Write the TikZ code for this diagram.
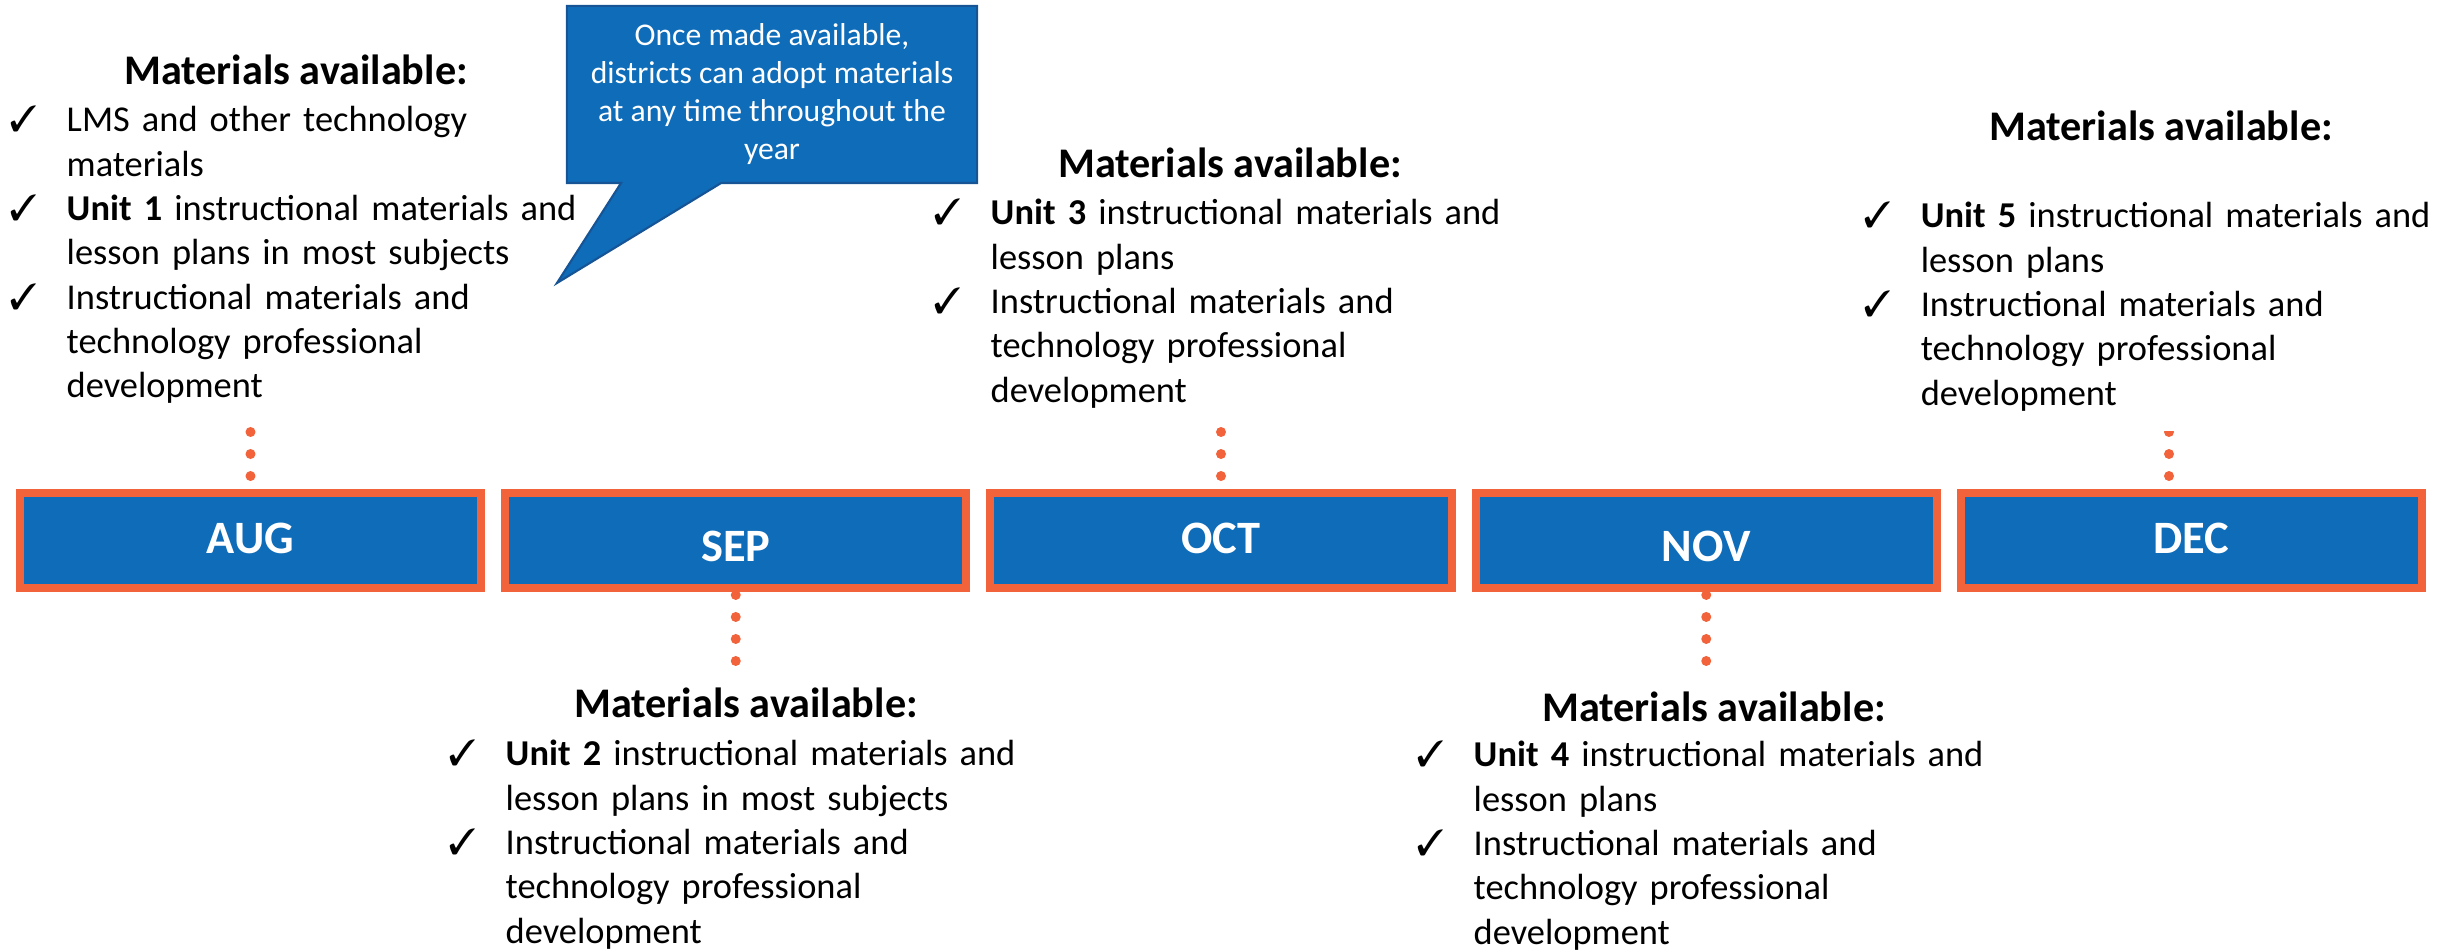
\documentclass[tikz,border=0pt]{standalone}
\usepackage{fontspec}
\setmainfont{Carlito}
\usepackage{pifont}
\usetikzlibrary{shapes.callouts,backgrounds}

\definecolor{boxblue}{RGB}{14,108,185}
\definecolor{edgeblue}{RGB}{22,84,150}
\definecolor{frameorange}{RGB}{242,99,59}

\newlength{\chkind}
\setlength{\chkind}{0.57cm}
\newcommand{\chkitem}[1]{\noindent\hangindent=\chkind\hangafter=1\makebox[\chkind][l]{\ding{51}}#1\par}

\tikzset{
	month/.style={draw=frameorange, fill=boxblue, line width=0.08cm, minimum width=4.61cm, minimum height=0.95cm, inner sep=0pt},
	monthtxt/.style={text=white, inner sep=0pt, font=\fontsize{13.2pt}{16pt}\selectfont\bfseries},
	heading/.style={anchor=base, inner sep=0pt, font=\fontsize{12pt}{14pt}\selectfont\bfseries},
	itemlist/.style={anchor=base west, text width=6.2cm, align=left, inner sep=0pt, font=\fontsize{10.35pt}{12.6pt}\selectfont},
	dotline/.style={draw=frameorange, line width=0.1cm, line cap=round, dash pattern=on 0pt off 0.22cm},
	note/.style={rectangle callout, fill=boxblue, draw=edgeblue, line width=0.6pt, text=white, align=center, minimum width=4.1cm, minimum height=1.77cm, inner sep=0pt, callout pointer width=1cm, font=\fontsize{9pt}{10.8pt}\selectfont}
}

\begin{document}
\begin{tikzpicture}[x=0.01cm, y=-0.01cm]
	\useasboundingbox (0,0) rectangle (2453,952);
	\foreach \n/\lbl/\x/\dy in {aug/AUG/250.5/0.02, sep/SEP/735.75/-0.055, oct/OCT/1221/0.02, nov/NOV/1706.25/-0.055, dec/DEC/2191.5/0.02}{
		\node[month] (\n) at (\x,540.5) {};
		\node[monthtxt] (\n-lbl) at ([yshift=\dy cm]\n.center) {\lbl};
	}

	\node[heading] (aug-head) at (296,85) {Materials available:};
	\node[itemlist] (aug-list) at (9,132) {
		\chkitem{LMS and other technology\newline materials}
		\chkitem{\textbf{Unit 1} instructional materials and\newline lesson plans in most subjects}
		\chkitem{Instructional materials and\newline technology professional\newline development}};
	\node[heading] (sep-head) at (746,718) {Materials available:};
	\node[itemlist] (sep-list) at (448,766) {
		\chkitem{\textbf{Unit 2} instructional materials and\newline lesson plans in most subjects}
		\chkitem{Instructional materials and\newline technology professional\newline development}};
	\node[heading] (oct-head) at (1230,178) {Materials available:};
	\node[itemlist] (oct-list) at (933,225) {
		\chkitem{\textbf{Unit 3} instructional materials and\newline lesson plans}
		\chkitem{Instructional materials and\newline technology professional\newline development}};
	\node[heading] (nov-head) at (1714,722) {Materials available:};
	\node[itemlist] (nov-list) at (1416,767) {
		\chkitem{\textbf{Unit 4} instructional materials and\newline lesson plans}
		\chkitem{Instructional materials and\newline technology professional\newline development}};
	\node[heading] (dec-head) at (2161,141) {Materials available:};
	\node[itemlist] (dec-list) at (1863,228) {
		\chkitem{\textbf{Unit 5} instructional materials and\newline lesson plans}
		\chkitem{Instructional materials and\newline technology professional\newline development}};

	\coordinate (aug-dot) at (250.5,432);
	\coordinate (oct-dot) at (1221,432);
	\coordinate (dec-dot) at (2169,432);
	\coordinate (sep-dot) at (735.75,661);
	\coordinate (nov-dot) at (1706.25,661);
	\begin{scope}[on background layer]
		\draw[dotline] (aug-dot) -- (aug-dot |- aug.north);
		\draw[dotline] (oct-dot) -- (oct-dot |- oct.north);
		\draw[dotline] (sep-dot) -- (sep-dot |- sep.south);
		\draw[dotline] (nov-dot) -- (nov-dot |- nov.south);
		\clip (1900,432) rectangle (2453,489);
		\draw[dotline] (dec-dot) -- (dec-dot |- dec.north);
	\end{scope}

	\coordinate (tip) at (557,283);
	\node[note, callout absolute pointer={(tip)}] (note) at (772,94.5) {Once made available,\\districts can adopt materials\\at any time throughout the\\year};
\end{tikzpicture}
\end{document}
